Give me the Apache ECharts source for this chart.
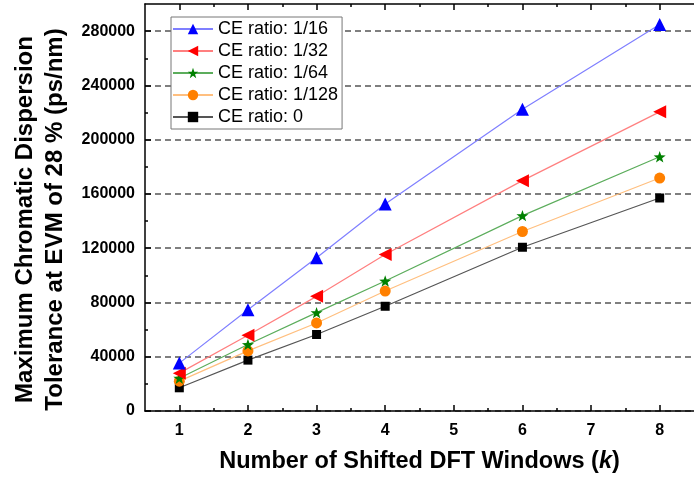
<!DOCTYPE html>
<html>
<head>
<meta charset="utf-8">
<script src="https://cdn.jsdelivr.net/npm/echarts@6/dist/echarts.min.js"></script>
<style>
  html, body { margin: 0; padding: 0; background: #fff; }
  #chart { width: 694px; height: 480px; }
</style>
</head>
<body>
<div id="chart"></div>
<script>
// Number of shifted DFT windows (k) at which the tolerance was evaluated
const kValues = [1, 2, 3, 4, 6, 8];

// Maximum CD tolerance (ps/nm) at EVM of 28 %, one array per CE ratio
const ratio1of16  = [35300, 74700, 113000, 152600, 222500, 284900];
const ratio1of32  = [27900, 55800, 84500, 115400, 169800, 220500];
const ratio1of64  = [24200, 49000, 72500, 95800, 144000, 187400];
const ratio1of128 = [22000, 44300, 64900, 88400, 132300, 171700];
const ratio0      = [17100, 37500, 56400, 77200, 120700, 157000];

const seriesNames = ['CE ratio: 1/16', 'CE ratio: 1/32', 'CE ratio: 1/64', 'CE ratio: 1/128', 'CE ratio: 0'];

// Axis tick positions
const xMajorTicks = [1, 2, 3, 4, 5, 6, 7, 8];
const xMinorTicks = [1.5, 2.5, 3.5, 4.5, 5.5, 6.5, 7.5];
const yMajorTicks = [0, 40000, 80000, 120000, 160000, 200000, 240000, 280000];
const yMinorTicks = [20000, 60000, 100000, 140000, 180000, 220000, 260000];

const FONT = '"Liberation Sans", Arial, Helvetica, sans-serif';
const STAR = 'path://M0,-10 L2.35,-3.24 L9.51,-3.09 L3.8,1.24 L5.88,8.09 L0,4 L-5.88,8.09 L-3.8,1.24 L-9.51,-3.09 L-2.35,-3.24 Z';

const pairs = vals => kValues.map((k, i) => [k, vals[i]]);

function lineSeries(name, vals, lineColor, markColor, symbol, size, rotate, z) {
  return {
    name: name,
    type: 'line',
    xAxisIndex: 0,
    yAxisIndex: 0,
    data: pairs(vals),
    symbol: symbol,
    symbolSize: size,
    symbolRotate: rotate,
    symbolKeepAspect: true,
    showAllSymbol: true,
    z: z,
    lineStyle: { color: lineColor, width: 1.2 },
    itemStyle: { color: markColor, borderWidth: 0 },
    emphasis: { disabled: true },
    animation: false
  };
}

const axisLineStyle = { show: true, lineStyle: { color: '#000', width: 1.5 } };

const chart = echarts.init(document.getElementById('chart'), null, { renderer: 'canvas' });
chart.setOption({
  backgroundColor: '#fff',
  animation: false,
  textStyle: { fontFamily: FONT },
  grid: [
    { left: 145, right: -8, top: 4, bottom: 69, containLabel: false },
    { left: 145, right: -8, top: 4, bottom: 69, containLabel: false }
  ],
  legend: {
    data: seriesNames,
    orient: 'vertical',
    left: 171,
    top: 17,
    itemWidth: 40,
    itemHeight: 13,
    itemGap: 4,
    padding: [3, 4, 3, 1],
    backgroundColor: '#fff',
    borderColor: '#777',
    borderWidth: 1,
    borderRadius: 0,
    textStyle: { fontFamily: FONT, fontSize: 18, color: '#000' }
  },
  xAxis: [
    {
      gridIndex: 0, type: 'value', position: 'bottom',
      min: 0.5, max: 8.5, interval: 0.5,
      axisLine: axisLineStyle,
      axisTick: { show: true, inside: true, length: 6, customValues: xMajorTicks, lineStyle: { color: '#000', width: 1.5 } },
      axisLabel: { customValues: xMajorTicks, margin: 12, fontFamily: FONT, fontSize: 16, fontWeight: 'bold', color: '#000' },
      splitLine: { show: false },
      name: '{n|Number of Shifted DFT Windows (}{k|k}{n|)}',
      nameLocation: 'middle',
      nameGap: 39,
      nameTextStyle: {
        rich: {
          n: { fontFamily: FONT, fontSize: 23.5, fontWeight: 'bold', color: '#000' },
          k: { fontFamily: FONT, fontSize: 23.5, fontWeight: 'bold', fontStyle: 'italic', color: '#000' }
        }
      }
    },
    {
      gridIndex: 0, type: 'value', position: 'top',
      min: 0.5, max: 8.5, interval: 0.5,
      axisLine: axisLineStyle,
      axisTick: { show: true, inside: true, length: 6, customValues: xMajorTicks, lineStyle: { color: '#000', width: 1.5 } },
      axisLabel: { show: false },
      splitLine: { show: false }
    },
    {
      gridIndex: 1, type: 'value', position: 'bottom',
      min: 0.5, max: 8.5, interval: 0.5,
      axisLine: { show: false },
      axisTick: { show: true, inside: true, length: 3, customValues: xMinorTicks, lineStyle: { color: '#000', width: 1.5 } },
      axisLabel: { show: false },
      splitLine: { show: false }
    },
    {
      gridIndex: 1, type: 'value', position: 'top',
      min: 0.5, max: 8.5, interval: 0.5,
      axisLine: { show: false },
      axisTick: { show: true, inside: true, length: 3, customValues: xMinorTicks, lineStyle: { color: '#000', width: 1.5 } },
      axisLabel: { show: false },
      splitLine: { show: false }
    }
  ],
  yAxis: [
    {
      gridIndex: 0, type: 'value', position: 'left',
      min: 0, max: 300000, interval: 40000,
      axisLine: axisLineStyle,
      axisTick: { show: true, inside: true, length: 6, customValues: yMajorTicks, lineStyle: { color: '#000', width: 1.5 } },
      axisLabel: {
        customValues: yMajorTicks, margin: 10,
        formatter: v => String(v),
        fontFamily: FONT, fontSize: 16, fontWeight: 'bold', color: '#000'
      },
      splitLine: { show: true, lineStyle: { color: '#555', width: 1.5, type: [6, 4] } },
      name: 'Maximum Chromatic Dispersion\nTolerance at EVM of 28 % (ps/nm)',
      nameLocation: 'middle',
      nameGap: 66,
      nameTextStyle: {
        fontFamily: FONT, fontSize: 24, fontWeight: 'bold', color: '#000',
        lineHeight: 30, padding: [0, 24, 0, 0]
      }
    },
    {
      gridIndex: 1, type: 'value', position: 'left',
      min: 0, max: 300000, interval: 40000,
      axisLine: { show: false },
      axisTick: { show: true, inside: true, length: 3, customValues: yMinorTicks, lineStyle: { color: '#000', width: 1.5 } },
      axisLabel: { show: false },
      splitLine: { show: false }
    }
  ],
  series: [
    lineSeries(seriesNames[0], ratio1of16,  '#7f7fff', '#0000ff', 'triangle', 13, 0, 10),
    lineSeries(seriesNames[1], ratio1of32,  '#ff7f7f', '#ff0000', 'triangle', 13, 90, 9),
    lineSeries(seriesNames[2], ratio1of64,  '#5cad5c', '#008000', STAR, 12, 0, 8),
    lineSeries(seriesNames[3], ratio1of128, '#ffbf7f', '#ff8000', 'circle', 11, 0, 7),
    lineSeries(seriesNames[4], ratio0,      '#555555', '#000000', 'rect', 9, 0, 6)
  ]
});
</script>
</body>
</html>
